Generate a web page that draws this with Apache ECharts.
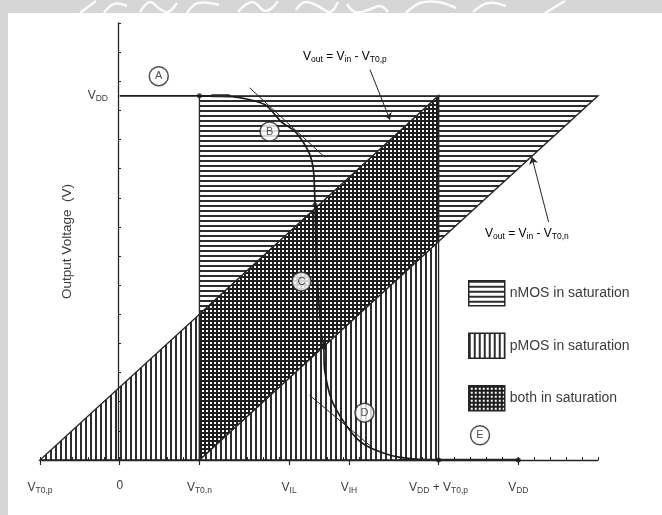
<!DOCTYPE html>
<html>
<head>
<meta charset="utf-8">
<script src="https://cdn.jsdelivr.net/npm/echarts@6/dist/echarts.min.js"></script>
<style>
  html, body { margin: 0; padding: 0; background: #fff; }
  #chart { width: 662px; height: 515px; }
</style>
</head>
<body>
<div id="chart"></div>
<script>
// Input-voltage axis: tick positions (V) and their names
const vinTickValues = [-1, 0, 1, 2.125, 2.875, 4, 5];
const vinTickNames = ['{v|V}{s|T0,p}', '{v|0}', '{v|V}{s|T0,n}', '{v|V}{s|IL}', '{v|V}{s|IH}',
                      '{v|V}{s|DD}{v| + V}{s|T0,p}', '{v|V}{s|DD}'];
// Output-voltage axis: labelled value and its name
const voutTickValues = [5];
const voutTickNames = ['{v|V}{s|DD}'];

// Saturation regions, vertices as (Vin, Vout)
const nmosRegion = [[1, 0], [1, 5], [6, 5]];
const pmosRegion = [[-1, 0], [4, 5], [4, 0]];
const bothRegion = [[1, 0], [1, 2], [4, 5], [4, 3]];

// Voltage transfer characteristic of the inverter
const vtcVin  = [0, 1.0, 1.41, 1.82, 2.03, 2.20, 2.37, 2.43, 2.45, 2.47, 2.53, 2.56, 2.57, 2.66, 2.82, 3.00, 3.20, 3.50, 4.0, 5.0];
const vtcVout = [5, 5.0, 4.99, 4.88, 4.64, 4.51, 4.23, 3.98, 3.50, 2.65, 1.74, 1.55, 1.24, 0.82, 0.51, 0.27, 0.14, 0.04, 0.0, 0.0];

// Heavier traced stretches at the two flat ends of the curve
const flatHigh = [[1.15, 5], [1.38, 5]];
const flatLow  = [[3.5, 0], [5, 0]];

// Unity-gain (slope -1) tangents near VIL and VIH
const tangentIL = [[1.63, 5.11], [2.57, 4.16]];
const tangentIH = [[2.38, 0.89], [3.16, 0.18]];

// Region boundary points on the curve
const vtcDots = [[1, 5], [2.45, 3.5], [2.56, 1.55], [4, 0], [5, 0]];

// Operating regions A..E
const regionNames = ['A', 'B', 'C', 'D', 'E'];
const regionVin   = [0.49, 1.88, 2.28, 3.07, 4.52];
const regionVout  = [5.27, 4.51, 2.45, 0.65, 0.34];

// Pointers to the two saturation boundaries
const pointerP = [[3.14, 5.36], [3.39, 4.67]];
const pointerN = [[5.38, 3.27], [5.17, 4.16]];

const FONT = '"Liberation Sans", Arial, Helvetica, sans-serif';
const INK = '#262626';
const TEXT = '#3c3c3c';
const PAPER_EDGE = '#d6d6d6';

// Line-hatch textures for the region fills
function hatch(kind) {
  const c = document.createElement('canvas');
  const g = kind === 'both' ? 4 : 5;
  c.width = g; c.height = g;
  const ctx = c.getContext('2d');
  if (kind === 'both') { ctx.fillStyle = '#fff'; ctx.fillRect(0, 0, g, g); }
  ctx.fillStyle = kind === 'both' ? '#1e1e1e' : '#2e2e2e';
  const w = 2;
  if (kind !== 'v') ctx.fillRect(0, 0, g, w);
  if (kind !== 'h') ctx.fillRect(0, 0, w, g);
  return { image: c, repeat: 'repeat' };
}
const hatchH = hatch('h');
const hatchV = hatch('v');
const hatchX = hatch('both');

function regionSeries(name, verts, fill, z) {
  return {
    name: name,
    type: 'custom',
    xAxisIndex: 0, yAxisIndex: 0,
    data: [verts[0]],
    z: z,
    silent: true,
    itemStyle: { color: fill, borderColor: INK, borderWidth: 1.5 },
    renderItem: function (params, api) {
      return {
        type: 'polygon',
        shape: { points: verts.map(function (p) { return api.coord(p); }) },
        style: { fill: fill, stroke: INK, lineWidth: 1.3 }
      };
    }
  };
}

function segmentSeries(name, pts, width, z) {
  return {
    name: name, type: 'line', data: pts, symbol: 'none', z: z, silent: true,
    lineStyle: { color: INK, width: width }
  };
}

const rich = {
  v: { fontFamily: FONT, fontSize: 12, color: TEXT },
  s: { fontFamily: FONT, fontSize: 8.5, color: TEXT, padding: [6, 0, 0, 0] }
};

function labelFor(values, names) {
  return function (v) {
    const i = values.findIndex(function (t) { return Math.abs(t - v) < 1e-6; });
    return i >= 0 ? names[i] : '';
  };
}

// Scanned-page margin with the torn watermark strokes along its top edge
const edgeStrokes = [
  [[80, 13], [96, 1]],
  [[104, 13], [114, 4], [127, 6]],
  [[140, 12], [150, 2], [160, 9], [168, 12], [177, 3]],
  [[187, 13], [198, 3], [219, 5]],
  [[238, 12], [252, 2], [266, 11], [278, 1]],
  [[296, 10], [305, 2], [318, 6], [330, 12], [338, 2]],
  [[347, 4], [355, 12], [368, 10], [380, 6], [388, 12]],
  [[406, 13], [420, 3], [438, 2], [456, 8]],
  [[473, 12], [488, 3], [506, 6]],
  [[545, 13], [565, 1]]
];

const chart = echarts.init(document.getElementById('chart'), null, { renderer: 'canvas' });

chart.setOption({
  animation: false,
  backgroundColor: '#fff',
  grid: { left: 40, right: 64, top: 23, bottom: 55, containLabel: false, outerBoundsMode: 'none' },
  xAxis: [
    {
      type: 'value', min: -1, max: 6, interval: 0.2, position: 'bottom',
      axisLine: { onZero: false, lineStyle: { color: INK, width: 1.3 } },
      axisTick: { show: true, inside: true, length: 3, lineStyle: { color: INK } },
      splitLine: { show: false },
      axisLabel: {
        show: true, customValues: vinTickValues, margin: 20,
        formatter: labelFor(vinTickValues, vinTickNames), rich: rich
      }
    },
    {
      type: 'value', min: -1, max: 6, position: 'bottom',
      axisLine: { show: false },
      axisTick: { show: true, customValues: vinTickValues, length: 5, lineStyle: { color: INK, width: 1.2 } },
      splitLine: { show: false },
      axisLabel: { show: false }
    }
  ],
  yAxis: {
    type: 'value', min: 0, max: 6, interval: 0.4, position: 'left', offset: -78,
    name: 'Output Voltage  (V)', nameLocation: 'middle', nameGap: 44, nameRotate: 90,
    nameTextStyle: { fontFamily: FONT, fontSize: 13.5, color: TEXT },
    axisLine: { onZero: false, lineStyle: { color: INK, width: 1.3 } },
    axisTick: { show: true, inside: true, length: 3, lineStyle: { color: INK } },
    splitLine: { show: false },
    axisLabel: {
      show: true, customValues: voutTickValues, margin: 10,
      formatter: labelFor(voutTickValues, voutTickNames), rich: rich
    }
  },
  legend: {
    data: ['nMOS in saturation', 'pMOS in saturation', 'both in saturation'],
    orient: 'vertical', left: 463, top: 275,
    icon: 'rect', itemWidth: 36, itemHeight: 25, itemGap: 26,
    selectedMode: false,
    itemStyle: { borderColor: INK, borderWidth: 1.5 },
    textStyle: { fontFamily: FONT, fontSize: 14, color: TEXT }
  },
  series: [
    regionSeries('nMOS in saturation', nmosRegion, hatchH, 1),
    regionSeries('pMOS in saturation', pmosRegion, hatchV, 2),
    regionSeries('both in saturation', bothRegion, hatchX, 3),
    segmentSeries('tangent at VIL', tangentIL, 1, 5),
    segmentSeries('tangent at VIH', tangentIH, 1, 5),
    {
      name: 'VTC', type: 'line', z: 6, silent: true,
      data: vtcVin.map(function (x, i) { return [x, vtcVout[i]]; }),
      smooth: 0.25, symbol: 'none',
      lineStyle: { color: '#1a1a1a', width: 1.7 }
    },
    segmentSeries('VTC high', flatHigh, 3, 6),
    segmentSeries('VTC low', flatLow, 2.6, 6),
    {
      name: 'dots', type: 'scatter', z: 7, silent: true, data: vtcDots,
      symbolSize: 5, itemStyle: { color: '#1a1a1a' }
    },
    {
      name: 'pointers', type: 'lines', coordinateSystem: 'cartesian2d', z: 7, silent: true,
      data: [{ coords: pointerP }, { coords: pointerN }],
      symbol: ['none', 'arrow'], symbolSize: 7,
      lineStyle: { color: INK, width: 1, opacity: 1, curveness: 0 }
    },
    {
      name: 'regions', type: 'scatter', z: 8, silent: true,
      data: regionNames.map(function (n, i) { return [regionVin[i], regionVout[i], n]; }),
      symbol: 'circle', symbolSize: 19,
      itemStyle: { color: '#fff', borderColor: INK, borderWidth: 1.5 },
      label: {
        show: true, position: 'inside', fontFamily: FONT, fontSize: 11, color: INK,
        formatter: function (p) { return p.value[2]; }
      }
    }
  ],
  graphic: [
    { type: 'rect', left: 0, top: 0, shape: { width: 8, height: 515 }, style: { fill: PAPER_EDGE }, z: 0 },
    { type: 'rect', left: 0, top: 0, shape: { width: 662, height: 13 }, style: { fill: PAPER_EDGE }, z: 0 }
  ].concat(edgeStrokes.map(function (pts) {
    return {
      type: 'polyline', shape: { points: pts, smooth: 0.4 },
      style: { fill: null, stroke: '#fafafa', lineWidth: 2.5 }, z: 1
    };
  })).concat([
    {
      type: 'text', left: 303, top: 51, z: 10,
      style: { text: '{v|V}{s|out}{v| = V}{s|in}{v| - V}{s|T0,p}', rich: rich }
    },
    {
      type: 'text', left: 485, top: 228, z: 10,
      style: { text: '{v|V}{s|out}{v| = V}{s|in}{v| - V}{s|T0,n}', rich: rich }
    }
  ])
});
</script>
</body>
</html>
